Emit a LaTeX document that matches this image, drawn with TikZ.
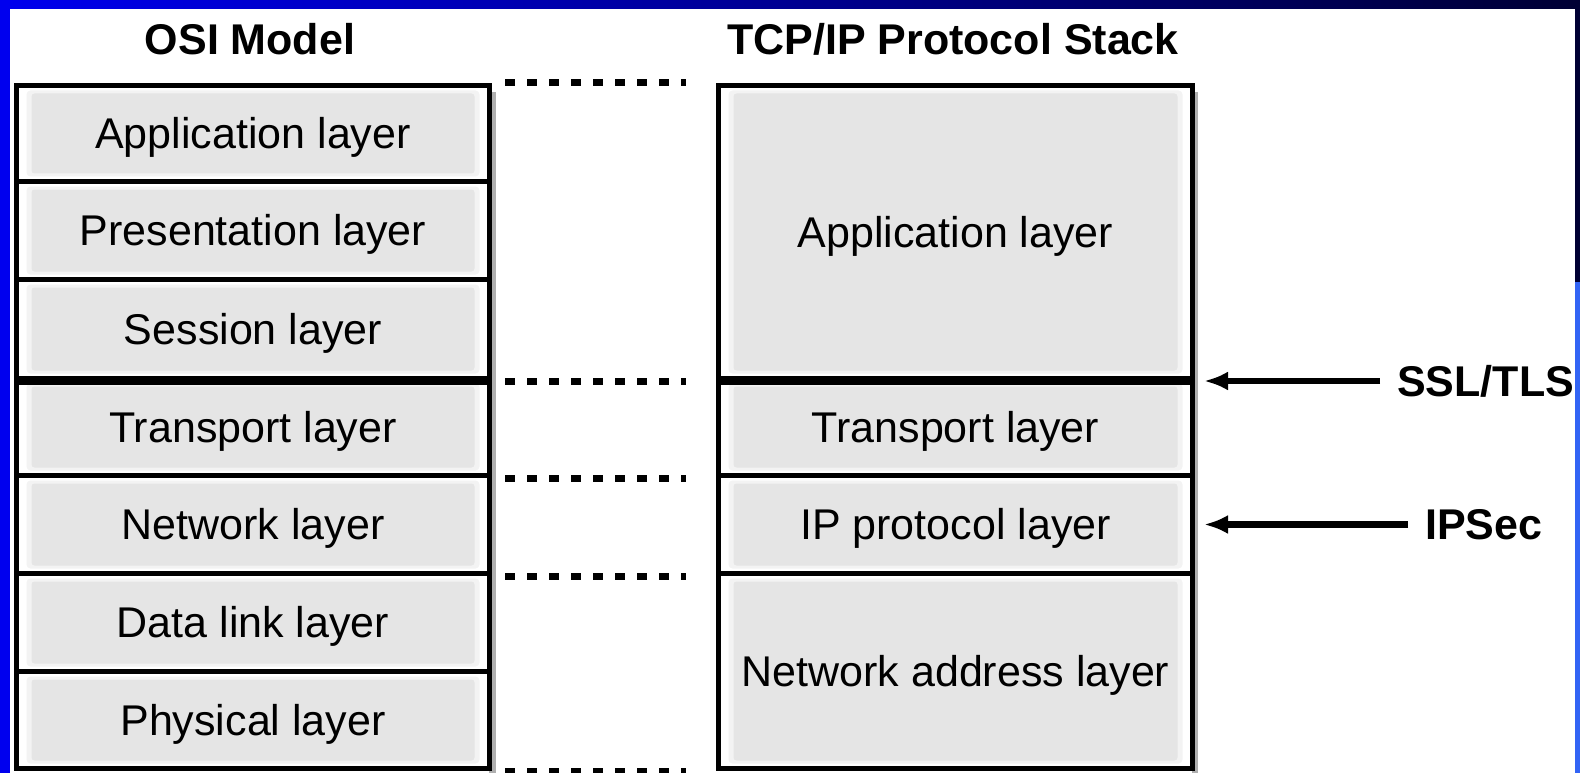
\documentclass[tikz,border=0pt]{standalone}
\usepackage{fontspec}
\setmainfont{Liberation Sans}
\usetikzlibrary{arrows.meta}
\definecolor{cellgray}{RGB}{229,229,229}
\definecolor{cellhalo}{RGB}{243,243,243}
\definecolor{shadowgray}{RGB}{175,175,175}
\definecolor{frameblue}{RGB}{0,0,238}
\definecolor{framenavy}{RGB}{0,0,52}
\definecolor{framelight}{RGB}{50,100,245}
\begin{document}
\begin{tikzpicture}[x=1pt,y=-1pt,
  cell/.style={rectangle, draw=black, line width=5pt, inner sep=0pt,
    font=\fontsize{43}{50}\selectfont, text height=30.8pt, text depth=0pt,
    path picture={
      \fill[cellhalo, rounded corners=4pt] ([shift={(10pt,-5pt)}]path picture bounding box.north west)
        rectangle ([shift={(-10pt,5pt)}]path picture bounding box.south east);
      \fill[cellgray, rounded corners=3pt] ([shift={(15pt,-8pt)}]path picture bounding box.north west)
        rectangle ([shift={(-15pt,8pt)}]path picture bounding box.south east);}},
  osicell/.style={cell, anchor=north west, minimum width=473pt},
  tcpcell/.style={cell, anchor=north west, minimum width=474pt},
  title/.style={font=\bfseries\fontsize{43}{50}\selectfont, inner sep=0pt},
  sidelabel/.style={title, text height=30.8pt, text depth=0pt, anchor=west},
  dots/.style={line width=7pt, dash pattern=on 10pt off 12pt},
  divider/.style={line width=7pt},
  arrow/.style={line width=6.5pt, -{Latex[length=24pt,width=19pt]}, shorten <=17pt},
  shadow/.style={fill=shadowgray}
]
\useasboundingbox (0,0) rectangle (1580,773);
\fill[white] (0,0) rectangle (1580,773);

% shadows right of the stacks
\fill[shadow] (489,92) rectangle (496,773);
\fill[shadow] (1192,92) rectangle (1198,773);

% titles
\node[title, anchor=base] (osititle) at (250,55) {OSI Model};
\node[title, anchor=base] (tcptitle) at (953,55) {TCP/IP Protocol Stack};

% OSI model
\node[osicell, minimum height=96pt] (osiapp)   at (14,83)  {Application layer};
\node[osicell, minimum height=98pt] (osipres)  at (14,179) {Presentation layer};
\node[osicell, minimum height=99pt] (osisess)  at (14,277) {Session layer};
\node[osicell, minimum height=97pt] (ositrans) at (14,376) {Transport layer};
\node[osicell, minimum height=98pt] (osinet)   at (14,473) {Network layer};
\node[osicell, minimum height=98pt] (osidata)  at (14,571) {Data link layer};
\node[osicell, minimum height=97pt] (osiphys)  at (14,669) {Physical layer};

% TCP/IP stack
\node[tcpcell, minimum height=293pt] (tcpapp)   at (716,83)  {Application layer};
\node[tcpcell, minimum height=97pt]  (tcptrans) at (716,376) {Transport layer};
\node[tcpcell, minimum height=98pt]  (tcpip)    at (716,473) {IP protocol layer};
\node[tcpcell, minimum height=195pt] (tcpnet)   at (716,571) {Network address layer};

% thick dividers
\draw[divider] (osisess.south west) -- (osisess.south east);
\draw[divider] (tcpapp.south west) -- (tcpapp.south east);

% dotted correspondences
\draw[dots] ([xshift=13pt]osiapp.north east)  -- ([xshift=-30pt]tcpapp.north west);
\draw[dots] ([xshift=13pt]osisess.south east) -- ([xshift=-30pt]tcpapp.south west);
\draw[dots] ([xshift=13pt]ositrans.south east) -- ([xshift=-30pt]tcptrans.south west);
\draw[dots] ([xshift=13pt]osinet.south east)  -- ([xshift=-30pt]tcpip.south west);
\draw[dots] ([xshift=13pt]osiphys.south east) -- ([xshift=-30pt]tcpnet.south west);

% security protocols
\coordinate (ssltip) at ([xshift=9pt]tcpapp.south east);
\coordinate (ipsectip) at ([xshift=9pt]tcpip.east);
\node[sidelabel] (ssl) at ([xshift=193pt]ssltip) {SSL/TLS};
\node[sidelabel] (ipsec) at ([xshift=221pt]ipsectip) {IPSec};
\draw[arrow] (ssl.west) -- (ssltip);
\draw[arrow] (ipsec.west) -- (ipsectip);

% slide frame
\shade[left color=frameblue, right color=framenavy] (0,0) rectangle (1580,9);
\fill[frameblue] (0,0) rectangle (10,773);
\fill[framenavy] (1575,0) rectangle (1580,282);
\fill[framelight] (1575,282) rectangle (1580,773);
\end{tikzpicture}
\end{document}
